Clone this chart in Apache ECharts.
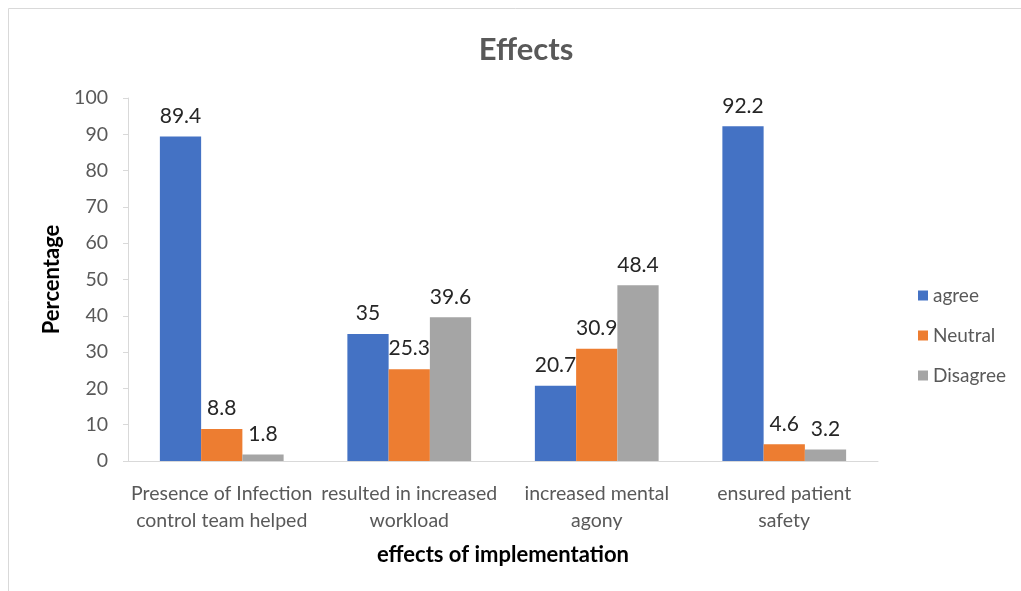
<!DOCTYPE html>
<html><head><meta charset="utf-8">
<script src="https://cdn.jsdelivr.net/npm/echarts@6/dist/echarts.min.js"></script>
<style>html,body{margin:0;padding:0;background:#fff}#c{width:1021px;height:591px}</style>
</head><body><div id="c"></div>
<script>
const categories = ['Presence of Infection\ncontrol team helped', 'resulted in increased\nworkload', 'increased mental\nagony', 'ensured patient\nsafety'];
const agree = [89.4, 35, 20.7, 92.2];
const neutral = [8.8, 25.3, 30.9, 4.6];
const disagree = [1.8, 39.6, 48.4, 3.2];
const seriesNames = ['agree', 'Neutral', 'Disagree'];
const colors = ['#4472C4', '#ED7D31', '#A5A5A5'];

const F = 'Lato, "Open Sans", sans-serif';
const chart = echarts.init(document.getElementById('c'));
const mk = (name, data, color) => ({
  name, type: 'bar', data, barGap: '0%', barCategoryGap: '34%',
  itemStyle: { color },
  label: { show: true, position: 'top', distance: 10, color: '#262626', fontSize: 21, fontFamily: F }
});
chart.setOption({
  animation: false,
  graphic: [{ type: 'rect', shape: { x: 8.5, y: 8.5, width: 1030, height: 600 }, style: { fill: null, stroke: '#d9d9d9', lineWidth: 1 } }],
  title: { text: 'Effects', left: 521, top: 29, textAlign: 'center',
    textStyle: { fontFamily: F, fontSize: 31, fontWeight: 'bold', color: '#595959' } },
  legend: { orient: 'vertical', left: 913, top: 281, itemGap: 21, itemWidth: 10, itemHeight: 10,
    icon: 'rect', textStyle: { fontFamily: F, fontSize: 19, color: '#595959' }, data: seriesNames },
  grid: { left: 128, right: 143, top: 98, bottom: 130, containLabel: false },
  xAxis: { type: 'category', data: categories,
    axisLine: { lineStyle: { color: '#d9d9d9' } }, axisTick: { show: false },
    axisLabel: { fontFamily: F, fontSize: 19.5, color: '#595959', lineHeight: 27, margin: 19, interval: 0 },
    name: 'effects of implementation', nameLocation: 'middle', nameGap: 83,
    nameTextStyle: { fontFamily: F, fontSize: 22, fontWeight: 'bold', color: '#000' } },
  yAxis: { type: 'value', min: 0, max: 100, interval: 10,
    axisLine: { show: true, lineStyle: { color: '#d9d9d9' } },
    axisTick: { show: true, length: 5, lineStyle: { color: '#d9d9d9' } },
    splitLine: { show: false },
    axisLabel: { fontFamily: F, fontSize: 19.5, color: '#595959', margin: 20 },
    name: 'Percentage', nameLocation: 'middle', nameGap: 62, nameRotate: 90,
    nameTextStyle: { fontFamily: F, fontSize: 22, fontWeight: 'bold', color: '#000' } },
  series: [mk(seriesNames[0], agree, colors[0]), mk(seriesNames[1], neutral, colors[1]), mk(seriesNames[2], disagree, colors[2])]
});
</script></body></html>
